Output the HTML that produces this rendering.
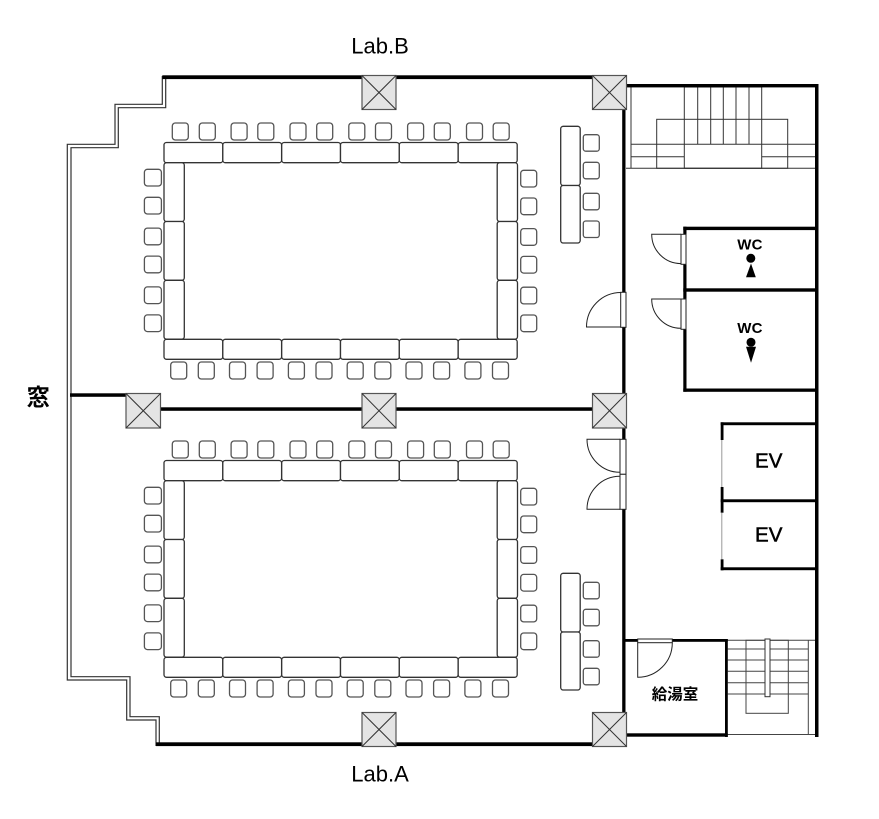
<!DOCTYPE html>
<html>
<head>
<meta charset="utf-8">
<style>
html,body{margin:0;padding:0;background:#fff;}
svg{display:block;}
</style>
</head>
<body>
<svg width="879" height="819" viewBox="0 0 879 819" xmlns="http://www.w3.org/2000/svg">
<rect x="0" y="0" width="879" height="819" fill="#fff"/>

<!-- Window double line -->
<g fill="none" stroke="#333" stroke-width="1.2">
  <path d="M162.3,76 V104.3 H115 V144.3 H67.3 V680 H126.7 V720 H156 V746"/>
  <path d="M165.7,79 V107.7 H118.3 V147.7 H71 V676.7 H130 V716.7 H159.3 V743"/>
</g>

<!-- Upper room furniture -->
<g>
<g fill="#fff" stroke="#555" stroke-width="1.3">
  <rect x="172.3" y="123" width="16" height="17" rx="3"/>
  <rect x="199.3" y="123" width="16" height="17" rx="3"/>
  <rect x="231.1" y="123" width="16" height="17" rx="3"/>
  <rect x="257.8" y="123" width="16" height="17" rx="3"/>
  <rect x="290" y="123" width="16" height="17" rx="3"/>
  <rect x="316.7" y="123" width="16" height="17" rx="3"/>
  <rect x="348.8" y="123" width="16" height="17" rx="3"/>
  <rect x="375.5" y="123" width="16" height="17" rx="3"/>
  <rect x="407.6" y="123" width="16" height="17" rx="3"/>
  <rect x="434.3" y="123" width="16" height="17" rx="3"/>
  <rect x="466.5" y="123" width="16" height="17" rx="3"/>
  <rect x="493.2" y="123" width="16" height="17" rx="3"/>

  <rect x="170.7" y="362" width="16" height="17" rx="3"/>
  <rect x="198.3" y="362" width="16" height="17" rx="3"/>
  <rect x="229.5" y="362" width="16" height="17" rx="3"/>
  <rect x="257.1" y="362" width="16" height="17" rx="3"/>
  <rect x="288.4" y="362" width="16" height="17" rx="3"/>
  <rect x="316" y="362" width="16" height="17" rx="3"/>
  <rect x="347.2" y="362" width="16" height="17" rx="3"/>
  <rect x="374.8" y="362" width="16" height="17" rx="3"/>
  <rect x="406" y="362" width="16" height="17" rx="3"/>
  <rect x="433.6" y="362" width="16" height="17" rx="3"/>
  <rect x="464.9" y="362" width="16" height="17" rx="3"/>
  <rect x="492.5" y="362" width="16" height="17" rx="3"/>

  <rect x="144.4" y="169.3" width="17" height="16.7" rx="3"/>
  <rect x="144.4" y="197.3" width="17" height="16.7" rx="3"/>
  <rect x="144.4" y="228.1" width="17" height="16.7" rx="3"/>
  <rect x="144.4" y="256.1" width="17" height="16.7" rx="3"/>
  <rect x="144.4" y="286.9" width="17" height="16.7" rx="3"/>
  <rect x="144.4" y="314.9" width="17" height="16.7" rx="3"/>

  <rect x="520.7" y="170.3" width="16" height="16.7" rx="3"/>
  <rect x="520.7" y="198" width="16" height="16.7" rx="3"/>
  <rect x="520.7" y="228.6" width="16" height="16.7" rx="3"/>
  <rect x="520.7" y="256.4" width="16" height="16.7" rx="3"/>
  <rect x="520.7" y="287.2" width="16" height="16.7" rx="3"/>
  <rect x="520.7" y="315" width="16" height="16.7" rx="3"/>
</g>
<g fill="#fff" stroke="#333" stroke-width="1.3">
  <rect x="164" y="142.5" width="58.8" height="20.2" rx="2.5"/>
  <rect x="222.8" y="142.5" width="58.8" height="20.2" rx="2.5"/>
  <rect x="281.7" y="142.5" width="58.8" height="20.2" rx="2.5"/>
  <rect x="340.5" y="142.5" width="58.8" height="20.2" rx="2.5"/>
  <rect x="399.3" y="142.5" width="58.8" height="20.2" rx="2.5"/>
  <rect x="458.2" y="142.5" width="59" height="20.2" rx="2.5"/>

  <rect x="164" y="339.3" width="58.8" height="20" rx="2.5"/>
  <rect x="222.8" y="339.3" width="58.8" height="20" rx="2.5"/>
  <rect x="281.7" y="339.3" width="58.8" height="20" rx="2.5"/>
  <rect x="340.5" y="339.3" width="58.8" height="20" rx="2.5"/>
  <rect x="399.3" y="339.3" width="58.8" height="20" rx="2.5"/>
  <rect x="458.2" y="339.3" width="59" height="20" rx="2.5"/>

  <rect x="164" y="162.7" width="20.3" height="58.8" rx="2.5"/>
  <rect x="164" y="221.5" width="20.3" height="58.8" rx="2.5"/>
  <rect x="164" y="280.3" width="20.3" height="58.8" rx="2.5"/>

  <rect x="497.2" y="162.7" width="20.3" height="58.8" rx="2.5"/>
  <rect x="497.2" y="221.5" width="20.3" height="58.8" rx="2.5"/>
  <rect x="497.2" y="280.3" width="20.3" height="58.8" rx="2.5"/>
</g>
</g>

<!-- Lower room furniture -->
<g transform="translate(0,318)">
<g fill="#fff" stroke="#555" stroke-width="1.3">
  <rect x="172.3" y="123" width="16" height="17" rx="3"/>
  <rect x="199.3" y="123" width="16" height="17" rx="3"/>
  <rect x="231.1" y="123" width="16" height="17" rx="3"/>
  <rect x="257.8" y="123" width="16" height="17" rx="3"/>
  <rect x="290" y="123" width="16" height="17" rx="3"/>
  <rect x="316.7" y="123" width="16" height="17" rx="3"/>
  <rect x="348.8" y="123" width="16" height="17" rx="3"/>
  <rect x="375.5" y="123" width="16" height="17" rx="3"/>
  <rect x="407.6" y="123" width="16" height="17" rx="3"/>
  <rect x="434.3" y="123" width="16" height="17" rx="3"/>
  <rect x="466.5" y="123" width="16" height="17" rx="3"/>
  <rect x="493.2" y="123" width="16" height="17" rx="3"/>

  <rect x="170.7" y="362" width="16" height="17" rx="3"/>
  <rect x="198.3" y="362" width="16" height="17" rx="3"/>
  <rect x="229.5" y="362" width="16" height="17" rx="3"/>
  <rect x="257.1" y="362" width="16" height="17" rx="3"/>
  <rect x="288.4" y="362" width="16" height="17" rx="3"/>
  <rect x="316" y="362" width="16" height="17" rx="3"/>
  <rect x="347.2" y="362" width="16" height="17" rx="3"/>
  <rect x="374.8" y="362" width="16" height="17" rx="3"/>
  <rect x="406" y="362" width="16" height="17" rx="3"/>
  <rect x="433.6" y="362" width="16" height="17" rx="3"/>
  <rect x="464.9" y="362" width="16" height="17" rx="3"/>
  <rect x="492.5" y="362" width="16" height="17" rx="3"/>

  <rect x="144.4" y="169.3" width="17" height="16.7" rx="3"/>
  <rect x="144.4" y="197.3" width="17" height="16.7" rx="3"/>
  <rect x="144.4" y="228.1" width="17" height="16.7" rx="3"/>
  <rect x="144.4" y="256.1" width="17" height="16.7" rx="3"/>
  <rect x="144.4" y="286.9" width="17" height="16.7" rx="3"/>
  <rect x="144.4" y="314.9" width="17" height="16.7" rx="3"/>

  <rect x="520.7" y="170.3" width="16" height="16.7" rx="3"/>
  <rect x="520.7" y="198" width="16" height="16.7" rx="3"/>
  <rect x="520.7" y="228.6" width="16" height="16.7" rx="3"/>
  <rect x="520.7" y="256.4" width="16" height="16.7" rx="3"/>
  <rect x="520.7" y="287.2" width="16" height="16.7" rx="3"/>
  <rect x="520.7" y="315" width="16" height="16.7" rx="3"/>
</g>
<g fill="#fff" stroke="#333" stroke-width="1.3">
  <rect x="164" y="142.5" width="58.8" height="20.2" rx="2.5"/>
  <rect x="222.8" y="142.5" width="58.8" height="20.2" rx="2.5"/>
  <rect x="281.7" y="142.5" width="58.8" height="20.2" rx="2.5"/>
  <rect x="340.5" y="142.5" width="58.8" height="20.2" rx="2.5"/>
  <rect x="399.3" y="142.5" width="58.8" height="20.2" rx="2.5"/>
  <rect x="458.2" y="142.5" width="59" height="20.2" rx="2.5"/>

  <rect x="164" y="339.3" width="58.8" height="20" rx="2.5"/>
  <rect x="222.8" y="339.3" width="58.8" height="20" rx="2.5"/>
  <rect x="281.7" y="339.3" width="58.8" height="20" rx="2.5"/>
  <rect x="340.5" y="339.3" width="58.8" height="20" rx="2.5"/>
  <rect x="399.3" y="339.3" width="58.8" height="20" rx="2.5"/>
  <rect x="458.2" y="339.3" width="59" height="20" rx="2.5"/>

  <rect x="164" y="162.7" width="20.3" height="58.8" rx="2.5"/>
  <rect x="164" y="221.5" width="20.3" height="58.8" rx="2.5"/>
  <rect x="164" y="280.3" width="20.3" height="58.8" rx="2.5"/>

  <rect x="497.2" y="162.7" width="20.3" height="58.8" rx="2.5"/>
  <rect x="497.2" y="221.5" width="20.3" height="58.8" rx="2.5"/>
  <rect x="497.2" y="280.3" width="20.3" height="58.8" rx="2.5"/>
</g>
</g>

<!-- Side benches -->
<g fill="#fff" stroke="#555" stroke-width="1.3">
  <rect x="583.3" y="134.7" width="16" height="16.5" rx="2.5"/>
  <rect x="583.3" y="162.3" width="16" height="16.5" rx="2.5"/>
  <rect x="583.3" y="193.3" width="16" height="16.5" rx="2.5"/>
  <rect x="583.3" y="221" width="16" height="16.5" rx="2.5"/>
  <rect x="583.3" y="582.3" width="16" height="16.5" rx="2.5"/>
  <rect x="583.3" y="609.3" width="16" height="16.5" rx="2.5"/>
  <rect x="583.3" y="640.7" width="16" height="16.5" rx="2.5"/>
  <rect x="583.3" y="668.3" width="16" height="16.5" rx="2.5"/>
</g>
<g fill="#fff" stroke="#333" stroke-width="1.3">
  <rect x="560.7" y="126.3" width="19.5" height="59.2" rx="2.5"/>
  <rect x="560.7" y="185.5" width="19.5" height="57.5" rx="2.5"/>
  <rect x="560.7" y="573.3" width="19.5" height="58.7" rx="2.5"/>
  <rect x="560.7" y="632" width="19.5" height="58" rx="2.5"/>
</g>

<!-- Top stairs -->
<g fill="none" stroke="#333" stroke-width="1">
  <line x1="631" y1="87" x2="631" y2="168.3"/>
  <line x1="631" y1="144.3" x2="684.3" y2="144.3"/>
  <line x1="761.7" y1="144.3" x2="815" y2="144.3"/>
  <line x1="631" y1="156.7" x2="684.3" y2="156.7"/>
  <line x1="761.7" y1="156.7" x2="815" y2="156.7"/>
  <line x1="626" y1="168.3" x2="815" y2="168.3"/>
  <rect x="656.7" y="119.3" width="131" height="49"/>
  <rect x="684.3" y="87" width="77.4" height="81.3"/>
  <line x1="684.3" y1="144.3" x2="761.7" y2="144.3"/>
  <line x1="697.7" y1="87" x2="697.7" y2="144.3"/>
  <line x1="710.7" y1="87" x2="710.7" y2="144.3"/>
  <line x1="723.3" y1="87" x2="723.3" y2="144.3"/>
  <line x1="736" y1="87" x2="736" y2="144.3"/>
  <line x1="749" y1="87" x2="749" y2="144.3"/>
</g>

<!-- Bottom stairs -->
<g fill="none" stroke="#444" stroke-width="1">
  <line x1="727" y1="640.3" x2="815" y2="640.3"/>
  <line x1="808.3" y1="640.3" x2="808.3" y2="734.5"/>
  <line x1="727.7" y1="649" x2="808.3" y2="649"/>
  <line x1="727.7" y1="660" x2="808.3" y2="660"/>
  <line x1="727.7" y1="671.3" x2="808.3" y2="671.3"/>
  <line x1="727.7" y1="682.7" x2="808.3" y2="682.7"/>
  <line x1="727.7" y1="694" x2="808.3" y2="694"/>
  <rect x="746" y="640.3" width="42.3" height="73"/>
  <line x1="727" y1="734.5" x2="816" y2="734.5"/>
</g>
<rect x="765" y="639" width="5" height="57.7" fill="#fff" stroke="#333" stroke-width="1"/>

<!-- Walls -->
<g fill="#000">
  <rect x="162.3" y="75.3" width="430.5" height="3.8"/>
  <rect x="626" y="84" width="192.5" height="3.4"/>
  <rect x="815" y="84" width="3.5" height="653"/>
  <rect x="622.2" y="109" width="3.3" height="604"/>
  <rect x="70" y="393.3" width="56" height="3.5"/>
  <rect x="160" y="407.3" width="433" height="3.5"/>
  <rect x="156" y="742.3" width="437" height="3.8"/>
  <rect x="683.3" y="226.7" width="135" height="3.4"/>
  <rect x="683.3" y="226.7" width="3.2" height="165"/>
  <rect x="683.3" y="288.3" width="135" height="3.4"/>
  <rect x="683.3" y="388.5" width="135" height="3.3"/>
  <rect x="720.7" y="422.3" width="97.8" height="2.9"/>
  <rect x="720.7" y="499.3" width="97.8" height="2.9"/>
  <rect x="720.7" y="567.3" width="97.8" height="2.9"/>
  <rect x="720.7" y="422.3" width="2.8" height="17.7"/>
  <rect x="720.7" y="487" width="2.8" height="25.7"/>
  <rect x="720.7" y="559.3" width="2.8" height="11"/>
  <rect x="625" y="639" width="102.7" height="2.8"/>
  <rect x="725" y="639" width="2.8" height="98"/>
  <rect x="625" y="733.3" width="102.7" height="3.4"/>
</g>
<g stroke="#999" stroke-width="1">
  <line x1="721.8" y1="440" x2="721.8" y2="487"/>
  <line x1="721.8" y1="512.7" x2="721.8" y2="559.3"/>
</g>

<!-- Columns -->
<g fill="#e4e4e4" stroke="#555" stroke-width="1.2">
  <rect x="362" y="75.5" width="34" height="34"/>
  <rect x="592.5" y="75.5" width="34" height="34"/>
  <rect x="126" y="393.5" width="34.5" height="34.5"/>
  <rect x="362" y="393.5" width="34" height="34.5"/>
  <rect x="592.5" y="393.5" width="34" height="34.5"/>
  <rect x="362" y="712.5" width="34" height="34"/>
  <rect x="592.5" y="712.5" width="34" height="34"/>
</g>
<g stroke="#333" stroke-width="1">
  <line x1="362" y1="75.5" x2="396" y2="109.5"/><line x1="396" y1="75.5" x2="362" y2="109.5"/>
  <line x1="592.5" y1="75.5" x2="626.5" y2="109.5"/><line x1="626.5" y1="75.5" x2="592.5" y2="109.5"/>
  <line x1="126" y1="393.5" x2="160.5" y2="428"/><line x1="160.5" y1="393.5" x2="126" y2="428"/>
  <line x1="362" y1="393.5" x2="396" y2="428"/><line x1="396" y1="393.5" x2="362" y2="428"/>
  <line x1="592.5" y1="393.5" x2="626.5" y2="428"/><line x1="626.5" y1="393.5" x2="592.5" y2="428"/>
  <line x1="362" y1="712.5" x2="396" y2="746.5"/><line x1="396" y1="712.5" x2="362" y2="746.5"/>
  <line x1="592.5" y1="712.5" x2="626.5" y2="746.5"/><line x1="626.5" y1="712.5" x2="592.5" y2="746.5"/>
</g>

<!-- Doors -->
<g fill="#fff" stroke="#222" stroke-width="1">
  <rect x="620.7" y="292.3" width="5.3" height="35"/>
  <rect x="681" y="234.3" width="5" height="30"/>
  <rect x="681" y="299" width="5" height="30.3"/>
  <rect x="620" y="439.3" width="6" height="35"/>
  <rect x="620" y="474.3" width="6" height="35"/>
  <rect x="637.7" y="639" width="34.6" height="3.7"/>
</g>
<g fill="none" stroke="#222" stroke-width="1">
  <path d="M621,292.5 A34.5,34.5 0 0 0 586.5,327 H621"/>
  <path d="M681,234.3 H651.7 A29.3,29.3 0 0 0 681,263.6"/>
  <path d="M681,299 H651.7 A29.3,29.3 0 0 0 681,328.3"/>
  <path d="M620,439.3 H587 A33,33 0 0 0 620,472.3"/>
  <path d="M620,509.3 H587 A33,33 0 0 1 620,476.3"/>
  <path d="M637.7,642.7 V677.3 A34.6,34.6 0 0 0 672.3,642.7"/>
</g>

<!-- WC icons -->
<g fill="#000">
  <circle cx="750.8" cy="258.3" r="4.5"/>
  <path d="M751,263.5 L746,277.3 L755.8,277.3 Z"/>
  <circle cx="751" cy="342.3" r="4.5"/>
  <path d="M746,346.7 L756,346.7 L751,362.7 Z"/>
</g>

<!-- Text -->
<g font-family="'Liberation Sans', Arial, sans-serif" fill="#000" text-anchor="middle">
  <text x="380" y="53.3" font-size="22">Lab.B</text>
  <text x="380" y="781.7" font-size="22">Lab.A</text>
  <text x="750" y="249.3" font-size="15" font-weight="bold" letter-spacing="0.3">WC</text>
  <text x="750" y="333" font-size="15" font-weight="bold" letter-spacing="0.3">WC</text>
  <text x="768.7" y="467.6" font-size="20.5" stroke="#000" stroke-width="0.5">EV</text>
  <text x="768.7" y="541.6" font-size="20.5" stroke="#000" stroke-width="0.5">EV</text>
</g>
<g font-family="'Liberation Sans', 'Noto Sans CJK JP', sans-serif" fill="#000" text-anchor="middle" font-weight="bold">
  <text x="38.3" y="405" font-size="23">窓</text>
  <text x="675" y="699.3" font-size="15.5">給湯室</text>
</g>
</svg>
</body>
</html>
